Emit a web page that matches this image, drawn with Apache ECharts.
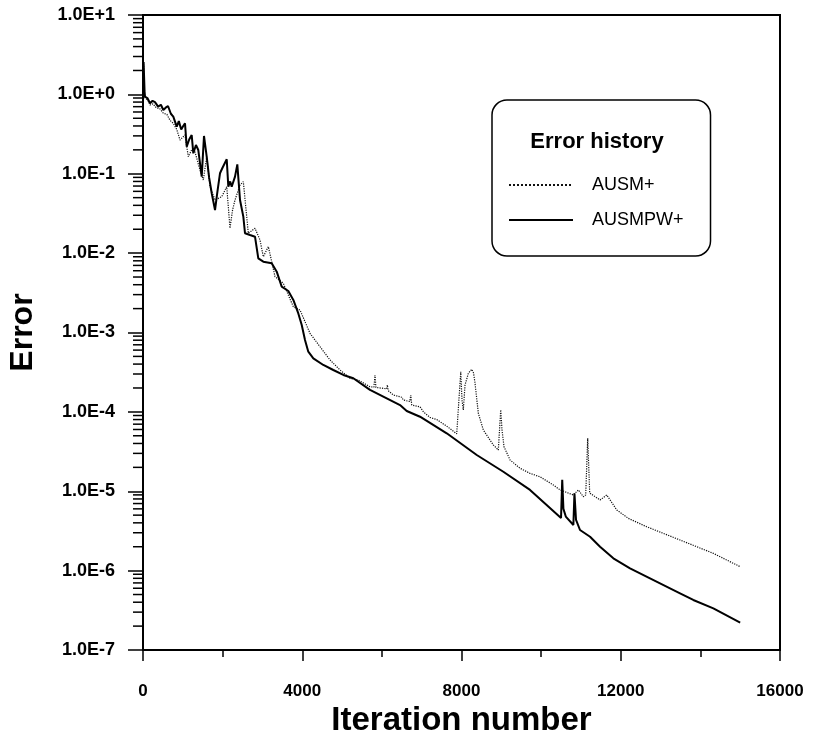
<!DOCTYPE html>
<html>
<head>
<meta charset="utf-8">
<script src="https://cdn.jsdelivr.net/npm/echarts@6/dist/echarts.min.js"></script>
<style>
html,body{margin:0;padding:0;background:#fff;}
#chart{width:815px;height:736px;}
</style>
</head>
<body>
<div id="chart"></div>
<script>
// ---- data ----
const seriesNames = ['AUSM+', 'AUSMPW+'];
const legendTitle = 'Error history';
const xTitle = 'Iteration number';
const yTitle = 'Error';
const xTickValues = [0, 4000, 8000, 12000, 16000];
const yTickLabels = ['1.0E-7','1.0E-6','1.0E-5','1.0E-4','1.0E-3','1.0E-2','1.0E-1','1.0E+0','1.0E+1'];
const yMinorMultipliers = [2,3,4,5,6,7,8,9];

const ausmIter = [0,15,40,50,120,176,250,330,420,510,600,680,761,850,929,1000,1055,1138,1220,1306,1432,1515,1600,1683,1809,1977,2103,2185,2250,2311,2437,2520,2605,2645,2813,2939,3022,3148,3233,3316,3524,3776,3944,4195,4446,4697,4949,5200,5408,5702,5800,5828,5850,6036,6120,6137,6160,6288,6498,6539,6700,6725,6750,6958,7041,7209,7378,7629,7880,7925,7981,8013,8046,8089,8172,8257,8302,8340,8423,8548,8799,8925,8985,9018,9068,9219,9470,9721,9973,10307,10475,10809,10935,11060,11120,11170,11220,11270,11480,11648,11899,12191,12653,13489,14326,15000];
const ausmErr = [0.95,2.4,1.0,0.9,0.85,0.735,0.76,0.68,0.66,0.58,0.56,0.47,0.432,0.36,0.266,0.29,0.308,0.164,0.2,0.188,0.111,0.0834,0.164,0.0687,0.0467,0.0514,0.0687,0.0206,0.035,0.0467,0.0721,0.0794,0.0288,0.0178,0.0206,0.0146,0.009,0.0121,0.0078,0.00505,0.00417,0.00211,0.00192,0.000977,0.000662,0.000451,0.000337,0.000265,0.000252,0.000207,0.000205,0.000292,0.000203,0.000198,0.000195,0.000218,0.000185,0.000163,0.000153,0.000141,0.000135,0.000163,0.000122,0.000116,0.0001004,8.5e-5,8.0e-5,6.6e-5,5.3e-5,5.4e-5,3.2e-4,1.41e-4,1.06e-4,2.18e-4,3.06e-4,3.44e-4,3.09e-4,2.29e-4,9.6e-5,5.92e-5,3.83e-5,3.31e-5,1.06e-4,5.9e-5,3.64e-5,2.48e-5,1.95e-5,1.68e-5,1.52e-5,1.2e-5,1.04e-5,8.97e-6,1.04e-5,8.53e-6,9.0e-6,4.65e-5,9.5e-6,9.42e-6,7.76e-6,8.97e-6,5.81e-6,4.56e-6,3.57e-6,2.43e-6,1.65e-6,1.12e-6];

const ausmpwIter = [0,15,40,50,110,176,240,301,380,450,510,570,628,700,761,810,847,900,960,1010,1055,1098,1160,1223,1264,1330,1389,1475,1532,1600,1660,1726,1809,1870,1934,2000,2103,2143,2190,2228,2311,2369,2437,2520,2562,2688,2813,2896,3022,3233,3359,3484,3650,3776,3901,3987,4069,4152,4278,4529,4780,5032,5283,5702,6122,6456,6624,6958,7629,8383,9051,9721,10500,10530,10560,10620,10810,10837,10877,10977,11229,11480,11814,12233,12735,13489,13822,14326,15000];
const ausmpwErr = [0.98,2.56,1.07,0.935,0.9,0.773,0.83,0.8,0.7,0.74,0.635,0.68,0.714,0.57,0.524,0.55,0.392,0.46,0.36,0.4,0.432,0.219,0.27,0.308,0.181,0.23,0.199,0.0919,0.299,0.164,0.09,0.0568,0.0349,0.06,0.1014,0.12,0.152,0.0687,0.08,0.0687,0.0919,0.1315,0.0467,0.0288,0.0178,0.0169,0.0161,0.0086,0.0078,0.00744,0.00584,0.00378,0.00333,0.00257,0.00174,0.00124,0.000805,0.000573,0.000473,0.00039,0.000337,0.000292,0.000265,0.000189,0.000148,0.000122,0.0001026,8.69e-5,5.37e-5,2.86e-5,1.76e-5,1.04e-5,4.6e-6,1.39e-5,6.0e-6,4.8e-6,3.76e-6,9.4e-6,4.35e-6,3.25e-6,2.67e-6,2.0e-6,1.43e-6,1.07e-6,8.0e-7,5.18e-7,4.27e-7,3.35e-7,2.21e-7];

// ---- build ----
const zip = (a, b) => a.map((v, i) => [v, b[i]]);
const minorTickData = [];
for (let e = -7; e < 1; e++) {
  yMinorMultipliers.forEach(m => minorTickData.push([0, m * Math.pow(10, e)]));
}
const font = '"Liberation Sans", Arial, Helvetica, sans-serif';

const chart = echarts.init(document.getElementById('chart'), null, {renderer: 'canvas'});
chart.setOption({
  animation: false,
  backgroundColor: '#fff',
  textStyle: {fontFamily: font, color: '#000'},
  grid: {left: 143, right: 35, top: 15, bottom: 86, show: true, borderColor: '#000', borderWidth: 2,
    containLabel: false, outerBoundsMode: 'none'},
  title: {
    text: legendTitle, left: 597, top: 131, textAlign: 'center', padding: 0,
    textStyle: {fontFamily: font, fontSize: 22, fontWeight: 'bold', color: '#000'}
  },
  legend: {
    data: seriesNames, orient: 'vertical', left: 492, top: 100,
    padding: [76, 27, 27, 16], itemGap: 17, itemWidth: 64, itemHeight: 18,
    borderColor: '#000', borderWidth: 1.5, borderRadius: 15, backgroundColor: '#fff',
    itemStyle: {opacity: 0},
    textStyle: {fontFamily: font, fontSize: 18, color: '#000', padding: [0, 0, 0, 14]}
  },
  xAxis: {
    type: 'value', min: xTickValues[0], max: xTickValues[xTickValues.length - 1], interval: 4000,
    name: xTitle, nameLocation: 'middle', nameGap: 49,
    nameTextStyle: {fontFamily: font, fontSize: 33, fontWeight: 'bold', color: '#000'},
    axisLine: {show: true, onZero: false, lineStyle: {color: '#000', width: 2}},
    axisTick: {show: true, inside: false, length: 11, lineStyle: {color: '#000', width: 1.5}},
    minorTick: {show: true, splitNumber: 2, length: 7, lineStyle: {color: '#000', width: 1.5}},
    axisLabel: {fontFamily: font, fontSize: 17, fontWeight: 'bold', color: '#000', margin: 33,
      formatter: v => String(v)},
    splitLine: {show: false}, minorSplitLine: {show: false}
  },
  yAxis: {
    type: 'log', logBase: 10, min: 1e-7, max: 10, splitNumber: 8,
    name: yTitle, nameLocation: 'middle', nameGap: 104, nameRotate: 90,
    nameTextStyle: {fontFamily: font, fontSize: 32, fontWeight: 'bold', color: '#000'},
    axisLine: {show: true, onZero: false, lineStyle: {color: '#000', width: 2}},
    axisTick: {show: true, inside: false, length: 15, lineStyle: {color: '#000', width: 1.5}},
    axisLabel: {
      fontFamily: font, fontSize: 18, fontWeight: 'bold', color: '#000', margin: 28,
      formatter: v => yTickLabels[Math.round(Math.log10(v)) + 7]
    },
    splitLine: {show: false}
  },
  series: [
    {
      name: seriesNames[0], type: 'line', data: zip(ausmIter, ausmErr),
      showSymbol: false, symbol: 'none', smooth: false, z: 3, color: '#111',
      lineStyle: {color: '#111', width: 1.2, type: 'dotted'}
    },
    {
      name: seriesNames[1], type: 'line', data: zip(ausmpwIter, ausmpwErr),
      showSymbol: false, symbol: 'none', smooth: false, z: 4, color: '#000',
      lineStyle: {color: '#000', width: 2, type: 'solid'}
    },
    {
      name: 'yMinorTicks', type: 'custom', data: minorTickData, clip: false, silent: true, z: 5,
      renderItem: (params, api) => {
        const p = api.coord([api.value(0), api.value(1)]);
        return {type: 'line', shape: {x1: p[0] - 10, y1: p[1], x2: p[0], y2: p[1]},
                style: {stroke: '#000', lineWidth: 1.5}};
      }
    }
  ]
});
</script>
</body>
</html>
